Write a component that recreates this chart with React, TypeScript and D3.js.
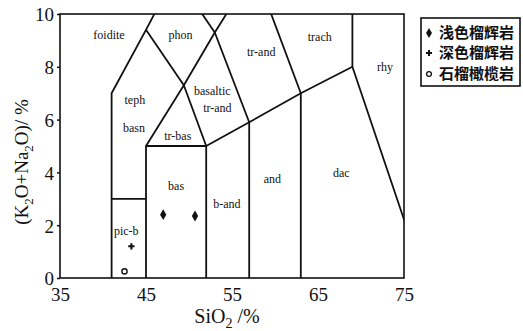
import * as d3 from 'd3';
import React, { useEffect, useRef } from 'react';

// TAS boundaries (Le Bas et al.), SiO2 vs K2O+Na2O
const boundaries: [number, number][][] = [
  [[41, 0], [41, 7], [45, 9.4], [48.4, 11.5]],
  [[41, 3], [45, 3]],
  [[45, 0], [45, 5], [52, 5], [52, 0]],
  [[45, 5], [49.4, 7.3], [52, 5]],
  [[45, 9.4], [49.4, 7.3], [53, 9.3], [57.6, 11.7]],
  [[48.4, 11.5], [53, 9.3], [57, 5.9], [57, 0]],
  [[52, 5], [57, 5.9], [63, 7], [69, 8], [77.3, 0]],
  [[57.6, 11.7], [63, 7], [63, 0]],
  [[69, 8], [69, 13]],
];

const fieldNames = ['foidite', 'phon', 'tr-and', 'trach', 'rhy', 'basaltic', 'tr-and', 'teph', 'basn', 'tr-bas', 'bas', 'b-and', 'and', 'dac', 'pic-b'];
const fieldX = [40.7, 49.0, 58.4, 65.2, 72.8, 52.7, 53.3, 43.7, 43.6, 48.7, 48.5, 54.4, 59.7, 67.7, 42.7];
const fieldY = [9.2, 9.2, 8.55, 9.15, 8.0, 7.1, 6.45, 6.75, 5.7, 5.4, 3.5, 2.8, 3.75, 4.0, 1.8];

const lightEclogite = { x: [47.0, 50.7], y: [2.4, 2.35] };
const darkEclogite = { x: [43.3], y: [1.2] };
const peridotite = { x: [42.5], y: [0.25] };

const legendLabels = ['浅色榴辉岩', '深色榴辉岩', '石榴橄榄岩'];
const xTicks = [35, 45, 55, 65, 75];
const yTicks = [0, 2, 4, 6, 8, 10];

const App = () => {
  const ref = useRef<SVGSVGElement>(null);

  useEffect(() => {
    const svg = d3.select(ref.current);
    svg.selectAll('*').remove();

    const x = d3.scaleLinear().domain([35, 75]).range([60, 404]);
    const y = d3.scaleLinear().domain([0, 10]).range([278, 14]);

    svg.append('defs').append('clipPath').attr('id', 'plot')
      .append('rect')
      .attr('x', x(35)).attr('y', y(10))
      .attr('width', x(75) - x(35)).attr('height', y(0) - y(10));

    const line = d3.line<[number, number]>().x(d => x(d[0])).y(d => y(d[1]));

    svg.append('g').attr('clip-path', 'url(#plot)')
      .selectAll('path')
      .data(boundaries)
      .enter()
      .append('path')
      .attr('d', d => line(d))
      .attr('fill', 'none')
      .attr('stroke', '#111')
      .attr('stroke-width', 1.8)
      .attr('stroke-linejoin', 'round');

    svg.append('rect')
      .attr('x', x(35)).attr('y', y(10))
      .attr('width', x(75) - x(35)).attr('height', y(0) - y(10))
      .attr('fill', 'none').attr('stroke', '#111').attr('stroke-width', 1.6);

    const font = '"Liberation Serif", "DejaVu Serif", serif';

    svg.append('g')
      .attr('transform', `translate(0,${y(0)})`)
      .call(d3.axisBottom(x).tickValues(xTicks).tickSize(0).tickPadding(10).tickFormat(d3.format('d')))
      .call(g => g.select('.domain').remove())
      .selectAll('text')
      .style('font-family', font).style('font-size', '19px').attr('fill', '#111');

    svg.append('g')
      .attr('transform', `translate(${x(35)},0)`)
      .call(d3.axisLeft(y).tickValues(yTicks).tickSize(3).tickPadding(3).tickFormat(d3.format('d')))
      .call(g => g.select('.domain').remove())
      .call(g => g.selectAll('line').attr('stroke', '#111').attr('stroke-width', 1.5))
      .selectAll('text')
      .attr('dy', '0.36em')
      .style('font-family', font).style('font-size', '19px').attr('fill', '#111');

    svg.append('text')
      .attr('x', 227).attr('y', 323)
      .attr('text-anchor', 'middle')
      .style('font-family', font).style('font-size', '20px').attr('fill', '#111')
      .html('SiO<tspan dy="5" font-size="14">2</tspan><tspan dy="-5"> /%</tspan>');

    svg.append('text')
      .attr('transform', 'translate(28,162) rotate(-90)')
      .attr('text-anchor', 'middle')
      .style('font-family', font).style('font-size', '19px').attr('fill', '#111')
      .html('(K<tspan dy="5" font-size="13">2</tspan><tspan dy="-5">O+Na</tspan><tspan dy="5" font-size="13">2</tspan><tspan dy="-5">O)/ %</tspan>');

    svg.append('g')
      .selectAll('text')
      .data(fieldNames)
      .enter()
      .append('text')
      .attr('x', (d, i) => x(fieldX[i]))
      .attr('y', (d, i) => y(fieldY[i]))
      .attr('text-anchor', 'middle')
      .attr('dy', '0.35em')
      .style('font-family', font).style('font-size', '12px').attr('fill', '#111')
      .text(d => d);

    const diamond = d3.symbol().type(d3.symbolDiamond).size(34);
    svg.append('g')
      .selectAll('path')
      .data(lightEclogite.x)
      .enter()
      .append('path')
      .attr('d', diamond)
      .attr('transform', (d, i) => `translate(${x(d)},${y(lightEclogite.y[i])})`)
      .attr('fill', '#111');

    const cross = d3.symbol().type(d3.symbolCross).size(22);
    svg.append('g')
      .selectAll('path')
      .data(darkEclogite.x)
      .enter()
      .append('path')
      .attr('d', cross)
      .attr('transform', (d, i) => `translate(${x(d)},${y(darkEclogite.y[i])})`)
      .attr('fill', '#111');

    svg.append('g')
      .selectAll('circle')
      .data(peridotite.x)
      .enter()
      .append('circle')
      .attr('cx', d => x(d))
      .attr('cy', (d, i) => y(peridotite.y[i]))
      .attr('r', 2.6)
      .attr('fill', 'none')
      .attr('stroke', '#111')
      .attr('stroke-width', 1.4);

    const legend = svg.append('g').attr('transform', 'translate(421,18)');
    legend.append('rect')
      .attr('width', 99).attr('height', 68)
      .attr('fill', 'none').attr('stroke', '#111').attr('stroke-width', 1.6);
    const rows = [15, 35, 56];
    legend.append('path').attr('d', d3.symbol().type(d3.symbolDiamond).size(30)()).attr('transform', `translate(8,${rows[0]})`).attr('fill', '#111');
    legend.append('path').attr('d', d3.symbol().type(d3.symbolCross).size(20)()).attr('transform', `translate(8,${rows[1]})`).attr('fill', '#111');
    legend.append('circle').attr('cx', 8).attr('cy', rows[2]).attr('r', 2.4).attr('fill', 'none').attr('stroke', '#111').attr('stroke-width', 1.3);
    legend.selectAll('text.lab')
      .data(legendLabels)
      .enter()
      .append('text')
      .attr('x', 18)
      .attr('y', (d, i) => rows[i])
      .attr('dy', '0.36em')
      .style('font-family', '"Noto Sans CJK SC", sans-serif')
      .style('font-size', '15px')
      .style('font-weight', 'bold')
      .attr('fill', '#111')
      .text(d => d);
  }, []);

  return (
    <div style={{ position: 'absolute', left: 0, top: 0 }}>
      <svg ref={ref} width={523} height={331} style={{ display: 'block', background: '#fff' }}></svg>
    </div>
  );
};

export default App;
